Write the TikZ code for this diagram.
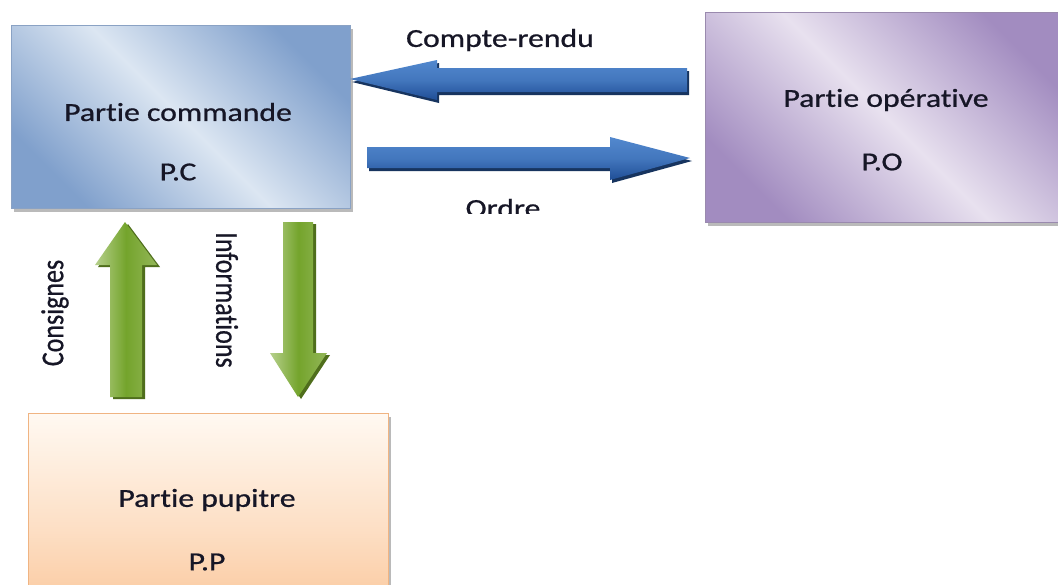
\documentclass[tikz,border=0pt]{standalone}
\usepackage{fontspec}
\setmainfont{Carlito}[RawFeature={-liga;-clig}, FakeBold=0.7]
\usetikzlibrary{shadows}

\definecolor{ink}{HTML}{161626}
\definecolor{pcdark}{HTML}{80A0CC}
\definecolor{pclight}{HTML}{DCE6F2}
\definecolor{pcline}{HTML}{8AA2C4}
\definecolor{podark}{HTML}{A28CC0}
\definecolor{polight}{HTML}{E8E1EF}
\definecolor{poline}{HTML}{9A8AAE}
\definecolor{pptop}{HTML}{FFF9F2}
\definecolor{ppbot}{HTML}{FAC08F}
\definecolor{ppline}{HTML}{F0B482}
\definecolor{bluetop}{HTML}{5288CE}
\definecolor{bluebot}{HTML}{1F4E96}
\definecolor{blueshadow}{HTML}{17345F}
\definecolor{greenlight}{HTML}{B6D08C}
\definecolor{greenmid}{HTML}{74A42C}
\definecolor{greenright}{HTML}{93B658}
\definecolor{greenshadow}{HTML}{4F6E1C}

% horizontally widened text, vertically widened for the rotated labels
\newcommand{\hstretch}[1]{\scalebox{1.22}[1]{#1}}
\newcommand{\vstretch}[1]{\scalebox{1}[1.22]{#1}}

\tikzset{
  partbox/.style={rectangle, draw=#1, line width=0.8pt, inner sep=0pt,
    drop shadow={shadow xshift=3pt, shadow yshift=-4pt, fill=black!45, opacity=0.6}},
  label text/.style={font=\fontsize{26}{30}\selectfont, text=ink, inner sep=0pt},
  bluearrow/.style={top color=bluetop, bottom color=bluebot, middle color=bluetop!70!bluebot},
  greenarrow/.style={left color=greenlight, right color=greenright, middle color=greenmid},
}

\begin{document}
\begin{tikzpicture}[x=1pt, y=-1pt]
\clip (0,0) rectangle (1058,584);
\fill[white] (0,0) rectangle (1058,584);

% ---- blocks ----
\node[partbox=pcline, minimum width=339pt, minimum height=183pt,
      top color=pcdark, bottom color=pcdark, middle color=pclight, shading angle=-45]
      (pc) at (180.5,116.5) {};
\node[partbox=poline, minimum width=362pt, minimum height=210pt,
      top color=podark, bottom color=podark, middle color=polight, shading angle=-45]
      (po) at (886,117) {};
\node[partbox=ppline, minimum width=360pt, minimum height=228pt,
      top color=pptop, bottom color=ppbot, middle color=pptop!55!ppbot]
      (pp) at (208,527) {};

% ---- block texts ----
\node[label text] (pcname) at (178,112) {\hstretch{Partie commande}};
\node[label text] (pcabbr) at (178,172) {\hstretch{P.C}};
\node[label text] (poname) at (886,100) {\hstretch{Partie opérative}};
\node[label text] (poabbr) at (882,162) {\hstretch{P.O}};
\node[label text] (ppname) at (207,500) {\hstretch{Partie pupitre}};
\node[label text] (ppabbr) at (207,562) {\hstretch{P.P}};

% ---- Compte-rendu : from P.O back to P.C ----
\coordinate (crtip) at (350,79);
\coordinate (crtail) at (687,80);
\fill[blueshadow] ([shift={(2,3)}]crtip) -- (439,63) -- (439,71) -- (689,71)
  -- (689,95) -- (439,95) -- (439,103) -- cycle;
\shade[bluearrow] (crtip) -- (437,60) -- (437,68) -- (crtail |- 0,68)
  -- (crtail |- 0,92) -- (437,92) -- (437,100) -- cycle;
\node[label text] (crlabel) at (500,40) {\hstretch{Compte-rendu}};

% ---- Ordre : from P.C to P.O ----
\coordinate (ortail) at (367,158);
\coordinate (ortip) at (690,158);
\fill[blueshadow] (369,150) -- (612,150) -- (612,140) -- ([shift={(2,3)}]ortip)
  -- (612,183) -- (612,171) -- (369,171) -- cycle;
\shade[bluearrow] (ortail |- 0,147) -- (610,147) -- (610,137) -- (ortip)
  -- (610,180) -- (610,168) -- (ortail |- 0,168) -- cycle;
\begin{scope}
  \clip (380,180) rectangle (640,213);
  \node[label text] (orlabel) at (503,208) {\hstretch{Ordre}};
\end{scope}

% ---- Consignes : from P.P up to P.C ----
\coordinate (cstip) at (125,222);
\fill[greenshadow] ([shift={(3,2)}]cstip) -- (160,267) -- (145,267) -- (145,399)
  -- (113,399) -- (113,267) -- (98,267) -- cycle;
\shade[greenarrow] (cstip) -- (157,265) -- (142,265) -- (142,397)
  -- (110,397) -- (110,265) -- (95,265) -- cycle;
\node[label text, rotate=90] (cslabel) at (55,313) {\vstretch{Consignes}};

% ---- Informations : from P.C down to P.P ----
\coordinate (intip) at (298,397);
\fill[greenshadow] (286,224) -- (316,224) -- (316,355) -- (330,355)
  -- ([shift={(3,2)}]intip) -- (273,355) -- (286,355) -- cycle;
\shade[greenarrow] (283,222) -- (313,222) -- (313,353) -- (327,353)
  -- (intip) -- (270,353) -- (283,353) -- cycle;
\node[label text, rotate=-90] (inlabel) at (227,300) {\vstretch{Informations}};
\end{tikzpicture}
\end{document}
